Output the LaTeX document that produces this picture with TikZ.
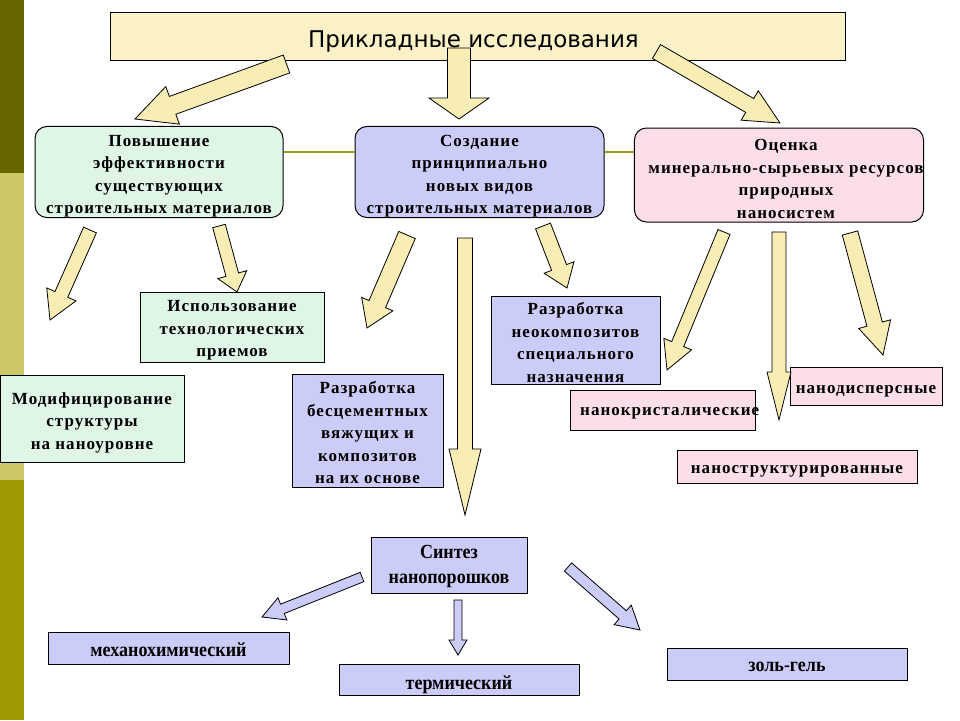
\documentclass[tikz,border=0pt]{standalone}
\usepackage{fontspec}
\setmainfont{Liberation Serif}[LetterSpace=6]
\newfontfamily\titlefont{DejaVu Sans}
\newfontfamily\narrowfont{Liberation Serif}[FakeStretch=0.9]
\definecolor{boxyellow}{HTML}{FAF2C6}
\definecolor{arrowyellow}{HTML}{F8EDB4}
\definecolor{boxgreen}{HTML}{DFF5E6}
\definecolor{boxblue}{HTML}{CCCCF8}
\definecolor{boxpink}{HTML}{FBDEE6}
\definecolor{stripdark}{HTML}{666600}
\definecolor{striplight}{HTML}{CCC766}
\definecolor{stripolive}{HTML}{9C9A00}
\definecolor{lineolive}{HTML}{9C9A22}
\newcommand\blockarrow[8]{%
 \pgfmathsetmacro\baang{atan2(#2-#4,#3-#1)}%
 \pgfmathsetmacro\balen{veclen(#3-#1,#4-#2)}%
 \pgfmathsetmacro\babase{\balen-#7}%
 \draw[blockarr, fill=#8, shift={(#1,#2)}, rotate=\baang] (0,-#5) -- (\babase,-#5) -- (\babase,-#6) -- (\balen,0) -- (\babase,#6) -- (\babase,#5) -- (0,#5) -- cycle;}
\newcommand\tstrut[1]{\rule{0pt}{#1pt}}
\newcommand\rsh{\hspace*{14pt}}
\tikzset{
 box/.style={draw=black, line width=1pt, inner sep=0pt, align=center,
   font=\bfseries\fontsize{17}{22.5}\selectfont},
 roundbox/.style={box, rounded corners=12pt},
 lowbox/.style={draw=black, line width=1pt, inner sep=0pt, align=center, fill=boxblue,
   font=\narrowfont\bfseries\fontsize{20}{25}\selectfont},
 blockarr/.style={draw=black, line width=0.8pt, line join=miter},
}
\begin{document}
\begin{tikzpicture}[x=1pt,y=-1pt]
\useasboundingbox (0,0) rectangle (960,720);
\fill[white] (0,0) rectangle (960,720);
% side strip
\fill[stripdark] (0,0) rectangle (24,173);
\fill[striplight] (0,173) rectangle (24,480);
\fill[stripolive] (0,480) rectangle (24,720);

% top
\node[box, fill=boxyellow, minimum width=735pt, minimum height=48pt,
  font=\titlefont\fontsize{23}{27}\selectfont] (top) at (477.5,36) {\hspace*{-8pt}\tstrut{27}Прикладные исследования};

% first row
\node[roundbox, fill=boxgreen, minimum width=248pt, minimum height=88pt] (L1) at (159,172)
  {\tstrut{20}Повышение\\эффективности\\существующих\\строительных материалов};
\node[roundbox, fill=boxblue, minimum width=249pt, minimum height=88pt] (M1) at (479.5,172)
  {\tstrut{20}Создание\\принципиально\\новых видов\\строительных материалов};
\node[roundbox, fill=boxpink, minimum width=288pt, minimum height=94pt] (R1) at (779,175)
  {\rsh\tstrut{19}Оценка\\\rsh минерально-сырьевых ресурсов\\\rsh природных\\\rsh наносистем};
\draw[lineolive, line width=1.5pt] ([yshift=20pt]L1.east) -- ([yshift=20pt]L1.east -| M1.west);
\draw[lineolive, line width=1.5pt] ([yshift=20pt]M1.east) -- ([yshift=20pt]M1.east -| R1.west);

% second level boxes
\node[box, fill=boxgreen, minimum width=184pt, minimum height=70pt] (tech) at (232,327)
  {\tstrut{18}Использование\\технологических\\приемов};
\node[box, fill=boxgreen, minimum width=184pt, minimum height=87pt] (mod) at (92,418.5)
  {\tstrut{20}Модифицирование\\структуры\\на наноуровне};
\node[box, fill=boxblue, minimum width=151pt, minimum height=113pt] (bescem) at (367.5,430.5)
  {\tstrut{16.5}Разработка\\бесцементных\\вяжущих и\\композитов\\на их основе};
\node[box, fill=boxblue, minimum width=169pt, minimum height=88pt] (neo) at (575.5,340)
  {\tstrut{17.5}Разработка\\неокомпозитов\\специального\\назначения};
\node[box, fill=boxpink, minimum width=185pt, minimum height=40pt] (cryst) at (662.5,410.5) {};
\node[anchor=west, inner sep=0pt, font=\bfseries\fontsize{17}{20}\selectfont] (crysttext) at (580,413.5) {нанокристалические};
\node[box, fill=boxpink, minimum width=152pt, minimum height=38pt] (disp) at (866,386) {\tstrut{18}нанодисперсные};
\node[box, fill=boxpink, minimum width=240pt, minimum height=33pt] (struct) at (797,466.5) {\tstrut{18}наноструктурированные};

% bottom
\node[lowbox, minimum width=156pt, minimum height=56pt] (synth) at (449,565) {\tstrut{17}Синтез\\нанопорошков};
\node[lowbox, minimum width=241pt, minimum height=32pt] (mech) at (168.5,648) {\tstrut{17.5}механохимический};
\node[lowbox, minimum width=240pt, minimum height=31pt] (therm) at (459,679.5) {\tstrut{23.5}термический};
\node[lowbox, minimum width=240pt, minimum height=32pt] (sol) at (787,664) {\tstrut{15}золь-гель};

% top arrows
\blockarrow{286.5}{64}{135}{119}{9.5}{20}{40}{arrowyellow}
\blockarrow{459}{48}{459}{119}{11.5}{30}{21}{arrowyellow}
\blockarrow{656.5}{51.5}{780}{123}{8}{17}{35}{arrowyellow}
% second level arrows
\blockarrow{90}{230}{50}{320}{7}{16}{28}{arrowyellow}
\blockarrow{219}{226}{237}{292}{6.5}{15}{18}{arrowyellow}
\blockarrow{407}{235}{367}{328}{9}{17}{26}{arrowyellow}
\blockarrow{465}{238}{465}{515}{7.5}{16}{66}{arrowyellow}
\blockarrow{543}{226}{567}{288}{8}{16}{22}{arrowyellow}
\blockarrow{724}{232}{667}{370}{6.5}{15}{28}{arrowyellow}
\blockarrow{779}{232}{779}{420}{7}{12}{48}{arrowyellow}
\blockarrow{850}{233}{883}{355}{8}{16.5}{32}{arrowyellow}
% bottom arrows
\blockarrow{362}{577}{262}{617}{5}{12}{22}{boxblue}
\blockarrow{458}{600}{458}{655}{4}{9}{15}{boxblue}
\blockarrow{568}{567}{640}{630}{5.5}{13}{23}{boxblue}
\end{tikzpicture}
\end{document}
